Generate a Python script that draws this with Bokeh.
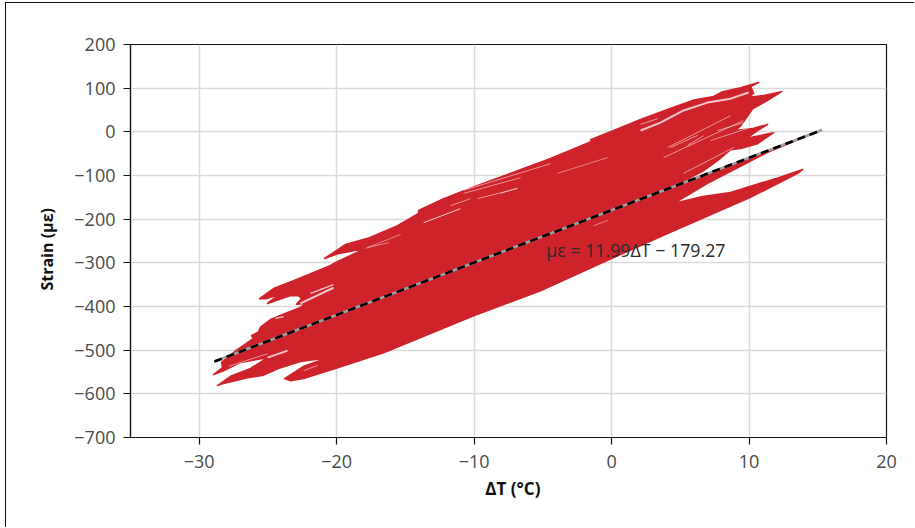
from bokeh.plotting import figure
from bokeh.embed import file_html
from bokeh.resources import INLINE
from bokeh.models import FixedTicker
from bokeh.core.properties import value

x_ticks = [-30, -20, -10, 0, 10, 20]
y_ticks = [200, 100, 0, -100, -200, -300, -400, -500, -600, -700]

# silhouette of the strain / temperature loops
loop_dt = [-28.96, -28.30, -28.37, -27.28, -26.05, -26.19, -25.68, -25.54, -24.81, -23.57, -22.63, -22.26,
           -22.92, -22.55, -22.77, -23.35, -25.03, -24.59, -23.86, -25.17, -25.61, -24.59, -23.14, -20.44,
           -20.08, -18.99, -17.90, -19.93, -20.88, -19.35, -17.75, -15.57, -14.04, -14.04, -12.22, -9.75,
           -6.84, -4.44, -1.46, -1.53, 0.15, 2.11, 4.07, 5.89, 7.42, 8.08, 9.39, 10.70, 10.11, 10.33, 9.97,
           11.06, 12.37, 11.35, 10.26, 9.75, 9.39, 9.02, 10.33, 11.35, 10.62, 9.89, 9.02, 10.11, 11.79,
           10.62, 9.39, 8.66, 7.71, 6.69, 5.02, 4.80, 15.2, 11.35, 6.98, 4.51, 6.62, 8.66, 12.15, 13.90,
           13.53, 10.11, 4.07, 0.15, -5.17, -10.04, -16.59, -19.93, -22.41, -23.35, -23.79, -22.41, -20.59,
           -22.63, -24.08, -25.39, -26.48, -28.23, -28.67, -27.72, -26.26, -25.03, -26.99, -28.23]
loop_strain = [-556, -540, -528, -500, -473, -467, -458, -447, -430, -414, -402, -393,
               -395, -382, -375, -375, -393, -382, -370, -382, -382, -359, -341, -306,
               -299, -283, -267, -279, -290, -258, -244, -215, -187, -180, -153, -123,
               -89, -61, -22, -18, 3, 28, 51, 72, 81, 92, 101, 113, 104, 88, 79,
               83, 92, 72, 53, 30, 14, 3, 8, 17, 3, -13, -22, -13, -2,
               -27, -38, -41, -66, -89, -116, -122, 3, -47, -118, -164, -148, -139, -105, -86,
               -95, -150, -233, -288, -364, -421, -506, -540, -565, -570, -565, -537, -517,
               -526, -540, -558, -563, -576, -581, -560, -542, -517, -528, -547]

# gaps between the loops
gap_dt = [[2.11, 3.56, 5.24, 6.98, 8.66, 9.97], [2.11, 3.35], [3.78, 9.60], [4.29, 6.26], [7.71, 9.60],
          [7.20, 10.48], [4.07, 8.66], [5.53, 6.69], [5.24, 8.88], [-3.93, -0.29], [-8.08, -6.84],
          [-1.31, -0.29], [-13.68, -10.99], [-11.71, -10.26], [-9.75, -6.84], [-10.77, -6.62],
          [-10.77, -4.44], [-17.90, -15.35], [-17.75, -16.22], [-22.63, -20.23], [-21.90, -20.23],
          [-24.45, -23.86], [-27.86, -25.03], [-25.03, -23.57], [-22.41, -21.39]]
gap_strain = [[3, 21, 49, 67, 76, 90], [17, 30], [-59, 26], [-36, -8], [3, 21],
              [-20, 14], [-36, 37], [-31, -9], [-95, -36], [-95, -59], [-141, -128],
              [-215, -203], [-208, -176], [-169, -153], [-153, -130], [-141, -105],
              [-134, -73], [-267, -235], [-265, -254], [-393, -357], [-370, -350],
              [-427, -423], [-537, -508], [-517, -501], [-547, -535]]
gap_width = [2, 0.8, 0.7, 0.7, 0.7, 0.7, 0.7, 0.7, 0.7, 0.6, 0.6, 0.6, 1, 0.7, 0.7, 0.7, 0.7, 0.6, 0.6, 2, 1.3, 1.2, 0.7, 1.8, 0.7]

fit_dt = [-28.9, 15.3]
fit_strain = [-526, 4]
fit_label = "με = 11.99ΔT − 179.27"
x_label = "\u00a0\u00a0ΔT (°C)"
y_label = "Strain (με)\u00a0\u00a0\u00a0\u00a0"

FONT = "Open Sans"
RED = "#cf232b"

# the page border of the reference sits at x=6, y=3: the figure's host carries it
p = figure(width=909, height=525, output_backend="svg", toolbar_location=None,
           x_range=(-35, 20), y_range=(-700, 200),
           min_border_left=124, min_border_right=29, min_border_top=41, min_border_bottom=91,
           x_axis_label=x_label, y_axis_label=y_label)
p.styles = {"position": "absolute", "left": "6px", "top": "3px",
            "border-left": "1.3px solid #111111", "border-top": "1.3px solid #111111",
            "margin-left": "-1px", "margin-top": "-1px"}
p.outline_line_color = "#111111"
p.outline_line_width = 1.2
p.background_fill_color = "white"
p.border_fill_color = "white"

p.xaxis.ticker = FixedTicker(ticks=x_ticks)
p.yaxis.ticker = FixedTicker(ticks=y_ticks)
p.xaxis.major_label_overrides = {t: str(t).replace("-", "−") for t in x_ticks}
p.yaxis.major_label_overrides = {t: str(t).replace("-", "−") for t in y_ticks}

for ax in (p.xaxis[0], p.yaxis[0]):
    ax.major_tick_out = 7
    ax.major_tick_in = 0
    ax.minor_tick_out = 0
    ax.minor_tick_in = 0
    ax.axis_line_color = "#111111"
    ax.axis_line_width = 1.2
    ax.major_tick_line_color = "#111111"
    ax.major_tick_line_width = 1.2
    ax.major_label_text_font = FONT
    ax.major_label_text_font_size = "18px"
    ax.major_label_text_color = "#4a4a4a"
    ax.axis_label_text_font = FONT
    ax.axis_label_text_font_style = "bold"
    ax.axis_label_text_color = "#111111"
p.xaxis.axis_label_text_font_size = "17px"
p.yaxis.axis_label_text_font_size = "16px"
p.xaxis.major_label_standoff = 10
p.yaxis.major_label_standoff = 8
p.xaxis.axis_label_standoff = 6
p.yaxis.axis_label_standoff = 13

p.xgrid.ticker = FixedTicker(ticks=x_ticks)
p.ygrid.ticker = FixedTicker(ticks=y_ticks)
p.grid.grid_line_color = "#d9d9d9"
p.grid.grid_line_width = 1.5

p.patch(loop_dt, loop_strain, fill_color=RED, line_color=RED, line_width=1.6, line_join="round")
for gx, gy, gw in zip(gap_dt, gap_strain, gap_width):
    p.line(gx, gy, line_color="#ffffff", line_width=gw, line_alpha=0.75)

p.line(fit_dt, fit_strain, line_color="#a0a0a0", line_width=2.6)
p.line(fit_dt, fit_strain, line_color="#000000", line_width=2.6, line_dash="8 5")
p.text([-4.75], [-270], text=[fit_label], text_font=value(FONT), text_font_size="17.8px",
       text_color="#2a2a2a", text_baseline="alphabetic")

open("out.html", "w").write(file_html(p, INLINE))
